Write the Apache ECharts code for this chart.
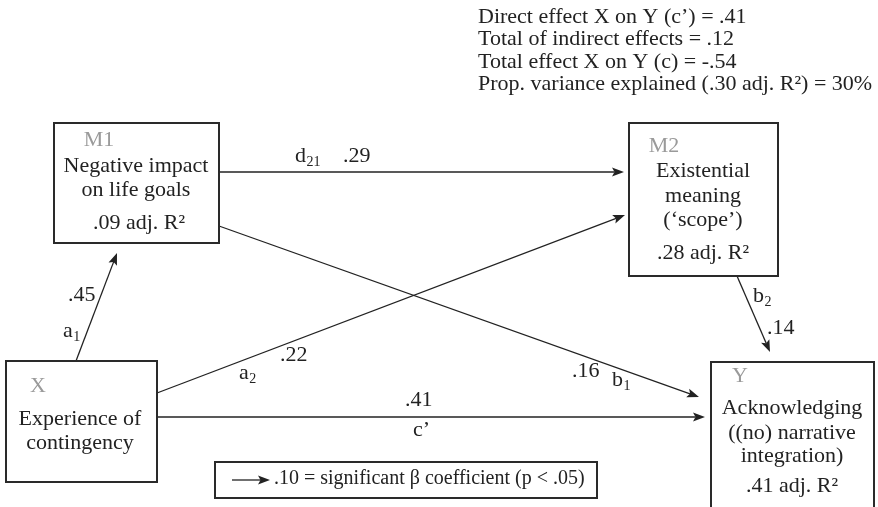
<!DOCTYPE html>
<html>
<head>
<meta charset="utf-8">
<script src="https://cdn.jsdelivr.net/npm/echarts@6/dist/echarts.min.js"></script>
<style>
html,body{margin:0;padding:0;background:#fff;}
#chart{width:878px;height:507px;}
</style>
</head>
<body>
<div id="chart"></div>
<script>
// ---------- DATA ----------
const NODE_IDS = ['M1', 'M2', 'X', 'Y'];
const NODE_TEXT = [
  ['Negative impact', 'on life goals'],
  ['Existential', 'meaning', '(‘scope’)'],
  ['Experience of', 'contingency'],
  ['Acknowledging', '((no) narrative', 'integration)']
];
const NODE_R2 = ['.09', '.28', '', '.41'];

const PATH_FROM = ['M1', 'M1', 'X', 'X', 'X', 'M2'];
const PATH_TO   = ['M2', 'Y', 'M2', 'M1', 'Y', 'Y'];
const PATH_LETTER = ['d', 'b', 'a', 'a', 'c’', 'b'];
const PATH_SUB    = ['21', '1', '2', '1', '', '2'];
const PATH_COEF   = ['.29', '.16', '.22', '.45', '.41', '.14'];

const SUMMARY_LINES = [
  'Direct effect X on Y (c’) = .41',
  'Total of indirect effects = .12',
  'Total effect X on Y (c) = -.54',
  'Prop. variance explained (.30 adj. R²) = 30%'
];
const LEGEND_TEXT = '.10 = significant β coefficient (p < .05)';

// ---------- LAYOUT (pixel space of the hidden axes) ----------
const BOX = {
  M1: { x0: 54, y0: 123, x1: 219, y1: 243, cx: 136, tag: [99, 140], lines: [166, 190], r2: [139, 223] },
  M2: { x0: 629, y0: 123, x1: 778, y1: 276, cx: 703, tag: [664, 146], lines: [171, 196, 220], r2: [703, 253] },
  X:  { x0: 6,  y0: 361, x1: 157, y1: 482, cx: 80,  tag: [38, 386], lines: [419, 443], r2: null },
  Y:  { x0: 711, y0: 362, x1: 874, y1: 512, cx: 792, tag: [740, 376], lines: [408, 433, 456], r2: [792, 486] }
};
// arrows: [startX, startY, tipX, tipY] per path
const ARROW = [
  [219, 172, 624, 172],
  [219, 226, 699, 397],
  [157, 393, 625, 215],
  [76, 361, 117, 253],
  [157, 417, 705, 417],
  [737, 276, 770, 352]
];
// label anchors (left x, middle y): letter and coefficient
const LETTER_POS = [[295, 156], [612, 380], [239, 373], [63, 331], [413, 430], [753, 296]];
const COEF_POS   = [[343, 156], [572, 371], [280, 355], [68, 295], [405, 400], [767, 328]];

const FONT_FAMILY = '"Liberation Serif", "Times New Roman", serif';
const FS = 22;
const LEGEND_FS = 20;
const SUB_FS = 14;
const INK = '#222';
const GREY = '#9a9a9a';

const measureCtx = document.createElement('canvas').getContext('2d');
function textWidth(t, size) {
  measureCtx.font = size + 'px ' + FONT_FAMILY;
  return measureCtx.measureText(t).width;
}

function txt(x, y, text, opts) {
  opts = opts || {};
  return {
    type: 'text',
    style: {
      x: x, y: y, text: text,
      fill: opts.fill || INK,
      fontSize: opts.size || FS,
      fontFamily: FONT_FAMILY,
      align: opts.align || 'left',
      verticalAlign: 'middle'
    }
  };
}

function arrowHead(tip, from, len, half) {
  const dx = tip[0] - from[0], dy = tip[1] - from[1];
  const d = Math.sqrt(dx * dx + dy * dy);
  const ux = dx / d, uy = dy / d;
  const bx = tip[0] - ux * len, by = tip[1] - uy * len;
  const nx = tip[0] - ux * (len - 2.5), ny = tip[1] - uy * (len - 2.5);
  return {
    base: [nx, ny],
    points: [tip, [bx - uy * half, by + ux * half], [nx, ny], [bx + uy * half, by - ux * half]]
  };
}

const chart = echarts.init(document.getElementById('chart'));

const boxSeries = {
  type: 'custom',
  coordinateSystem: 'cartesian2d',
  silent: true,
  z: 3,
  data: NODE_IDS.map((id, i) => [BOX[id].cx, BOX[id].y0, i]),
  encode: { x: 0, y: 1 },
  renderItem: function (params, api) {
    const i = api.value(2);
    const id = NODE_IDS[i];
    const L = BOX[id];
    const p0 = api.coord([L.x0, L.y0]);
    const p1 = api.coord([L.x1, L.y1]);
    const children = [{
      type: 'rect',
      shape: { x: p0[0], y: p0[1], width: p1[0] - p0[0], height: p1[1] - p0[1] },
      style: { fill: '#fff', stroke: '#2a2a2a', lineWidth: 2 }
    }];
    const tp = api.coord(L.tag);
    children.push(txt(tp[0], tp[1], id, { fill: GREY, align: 'center' }));
    NODE_TEXT[i].forEach((line, k) => {
      const p = api.coord([L.cx, L.lines[k]]);
      children.push(txt(p[0], p[1], line, { align: 'center' }));
    });
    if (NODE_R2[i]) {
      const p = api.coord(L.r2);
      children.push(txt(p[0], p[1], NODE_R2[i] + ' adj. R²', { align: 'center' }));
    }
    return { type: 'group', children: children };
  }
};

const arrowSeries = {
  type: 'custom',
  coordinateSystem: 'cartesian2d',
  silent: true,
  z: 2,
  data: PATH_FROM.map((f, i) => [ARROW[i][2], ARROW[i][3], i]),
  encode: { x: 0, y: 1 },
  renderItem: function (params, api) {
    const i = api.value(2);
    const a = ARROW[i];
    const s = api.coord([a[0], a[1]]);
    const t = api.coord([a[2], a[3]]);
    const head = arrowHead(t, s, 12, 4.5);
    return {
      type: 'group',
      children: [
        { type: 'line', shape: { x1: s[0], y1: s[1], x2: head.base[0], y2: head.base[1] }, style: { stroke: INK, lineWidth: 1.3 } },
        { type: 'polygon', shape: { points: head.points }, style: { fill: INK } }
      ]
    };
  }
};

const labelSeries = {
  type: 'custom',
  coordinateSystem: 'cartesian2d',
  silent: true,
  z: 4,
  data: PATH_COEF.map((c, i) => [COEF_POS[i][0], COEF_POS[i][1], i]),
  encode: { x: 0, y: 1 },
  renderItem: function (params, api) {
    const i = api.value(2);
    const lp = api.coord(LETTER_POS[i]);
    const cp = api.coord(COEF_POS[i]);
    const children = [txt(lp[0], lp[1], PATH_LETTER[i])];
    if (PATH_SUB[i]) {
      const w = textWidth(PATH_LETTER[i], FS);
      children.push(txt(lp[0] + w + 0.5, lp[1] + 6, PATH_SUB[i], { size: SUB_FS }));
    }
    children.push(txt(cp[0], cp[1], PATH_COEF[i]));
    return { type: 'group', children: children };
  }
};

const graphics = [];
SUMMARY_LINES.forEach((line, k) => {
  graphics.push({
    type: 'text', left: 478, top: 6 + k * 22.5,
    style: { text: line, fill: INK, fontSize: FS, fontFamily: FONT_FAMILY }
  });
});
graphics.push({
  type: 'rect', shape: { x: 215, y: 462, width: 382, height: 36 },
  style: { fill: '#fff', stroke: '#2a2a2a', lineWidth: 2 }, z: 10
});
graphics.push({
  type: 'line', shape: { x1: 232, y1: 480, x2: 262, y2: 480 },
  style: { stroke: INK, lineWidth: 1.3 }, z: 11
});
graphics.push({
  type: 'polygon', shape: { points: [[270, 480], [258, 475.5], [260.5, 480], [258, 484.5]] },
  style: { fill: INK }, z: 11
});
graphics.push({
  type: 'text', left: 274, top: 469,
  style: { text: LEGEND_TEXT, fill: INK, fontSize: LEGEND_FS, fontFamily: FONT_FAMILY }, z: 11
});

chart.setOption({
  animation: false,
  backgroundColor: '#fff',
  grid: { left: 0, right: 0, top: 0, bottom: 0 },
  xAxis: { type: 'value', min: 0, max: 878, show: false },
  yAxis: { type: 'value', min: 0, max: 507, inverse: true, show: false },
  graphic: graphics,
  series: [arrowSeries, boxSeries, labelSeries]
});
</script>
</body>
</html>
